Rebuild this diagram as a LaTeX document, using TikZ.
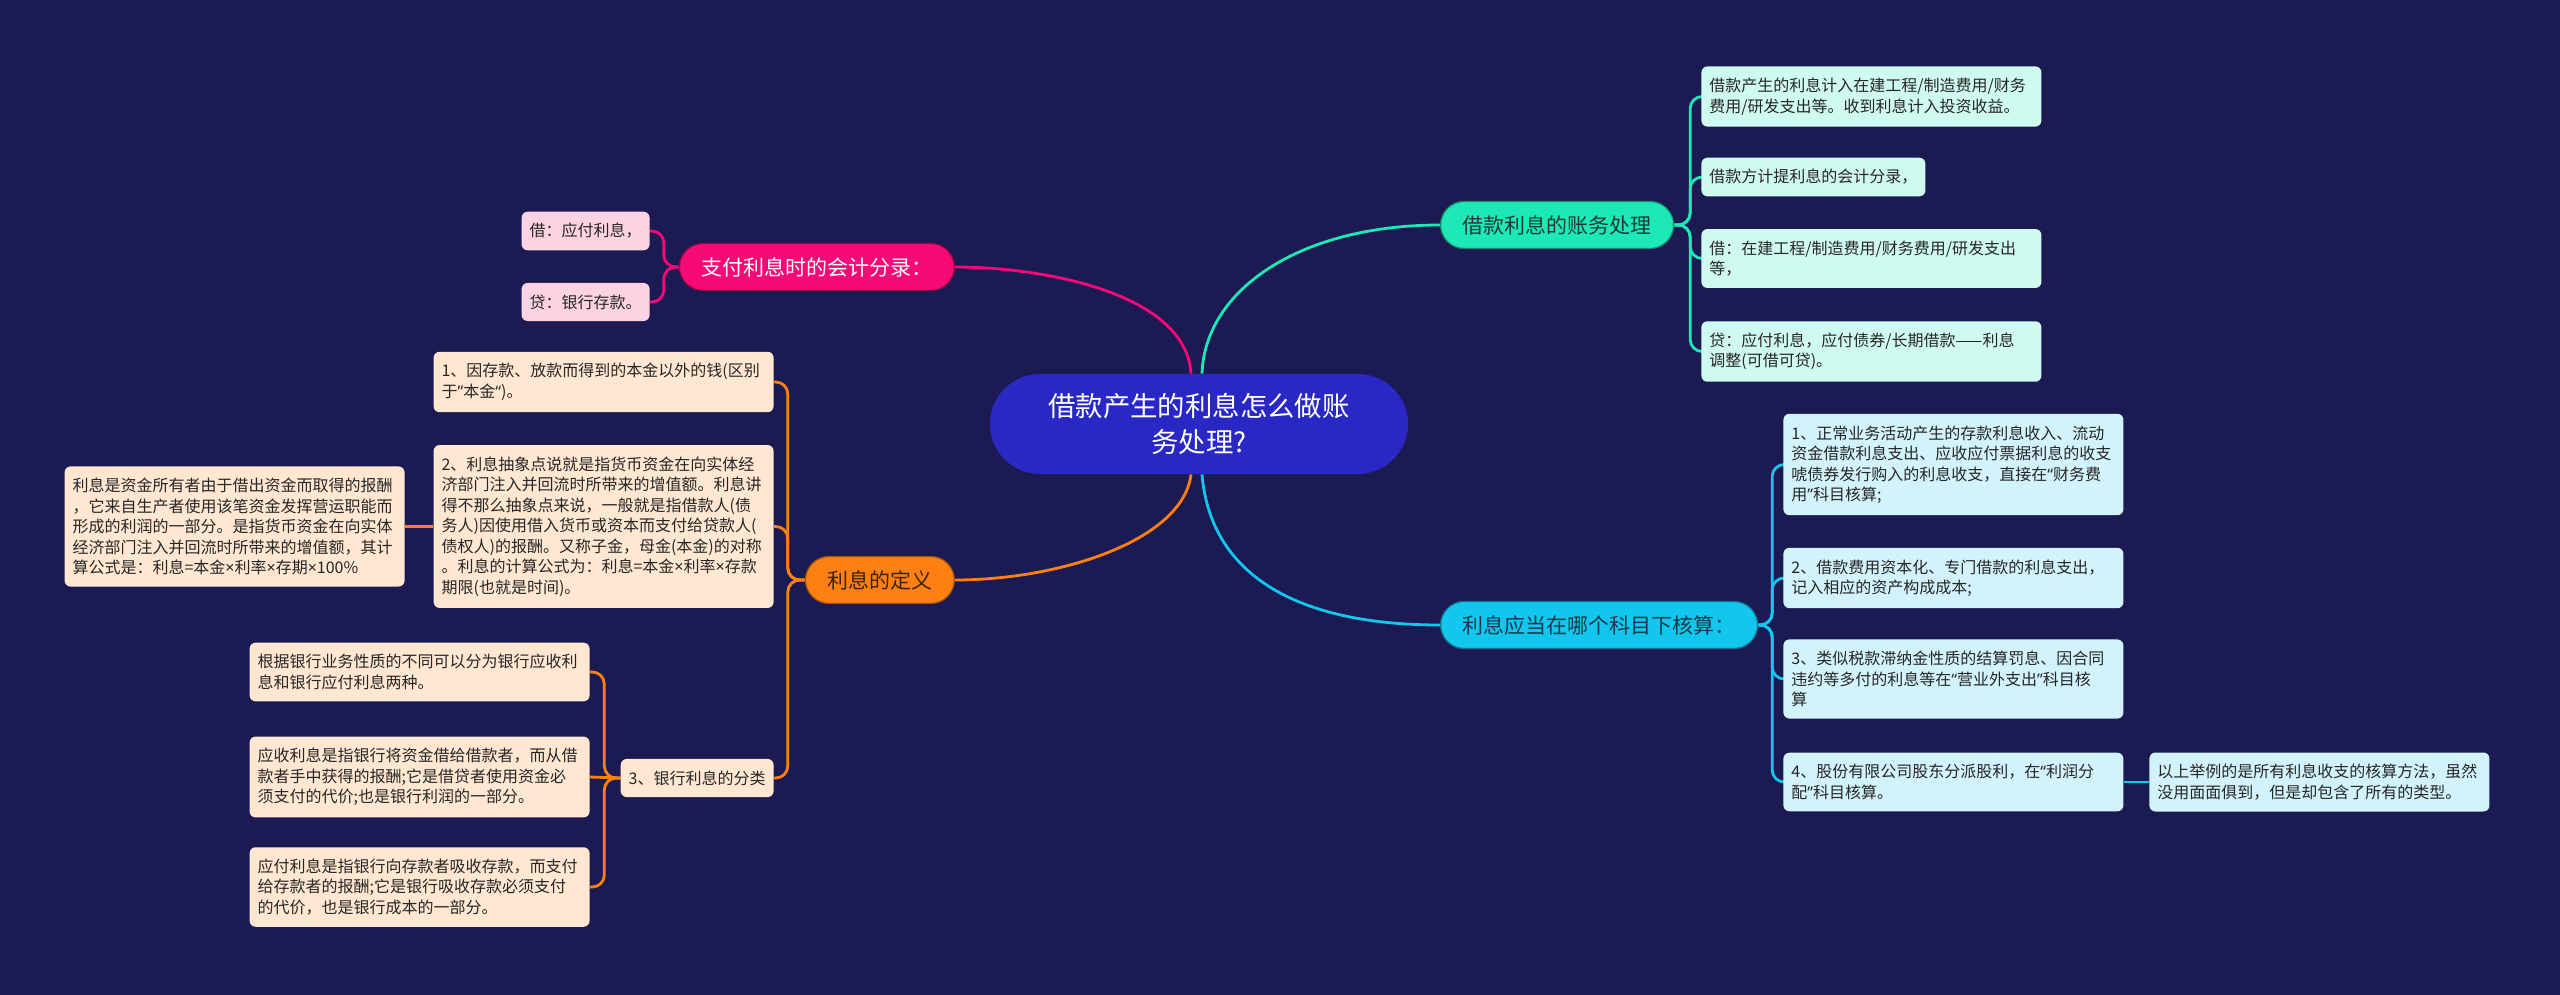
\documentclass[tikz,border=0pt]{standalone}
\usepackage{fontspec}
\setmainfont{Noto Sans CJK SC}
\newfontfamily\westfont{Noto Sans}
\usepackage{xcolor}
\usepackage{tikz}
\usetikzlibrary{positioning,backgrounds}
\definecolor{Night}{HTML}{1C1A52}
\definecolor{Core}{HTML}{2A28C4}
\definecolor{Rose}{HTML}{F50A78}
\definecolor{Mint}{HTML}{1DE9B6}
\definecolor{Sky}{HTML}{12C6EE}
\definecolor{Amber}{HTML}{FF8012}
\definecolor{RoseSoft}{HTML}{FDD3E4}
\definecolor{MintSoft}{HTML}{CFFAF0}
\definecolor{SkySoft}{HTML}{D2F3FC}
\definecolor{AmberSoft}{HTML}{FFE7D1}
\definecolor{Ink}{HTML}{262626}
\definecolor{MintInk}{HTML}{1A3A38}
\definecolor{SkyInk}{HTML}{15394A}
\definecolor{AmberInk}{HTML}{3A2208}
\newcommand{\wq}[1]{{\westfont #1}}

\begin{document}
\begin{tikzpicture}[x=0.5pt,y=-0.5pt,every node/.style={align=left},
  topic/.style={draw=#1!60!black,line width=0.6pt,fill=#1,rounded corners=11.75pt,minimum height=23.5pt,inner xsep=11pt,inner ysep=2pt,align=center,font=\fontsize{10.5pt}{12pt}\selectfont},
  leaf/.style={fill=#1,rounded corners=3pt,inner xsep=4pt,inner ysep=5.8pt,text=Ink,font=\fontsize{8pt}{10.25pt}\selectfont},
  full/.style={text width=162pt},
  link/.style={draw=#1,line width=1.4pt,rounded corners=6pt}]
  \useasboundingbox (0,0) rectangle (2560,995);
  % root
  \node[fill=Core,rounded corners=25pt,minimum width=209pt,minimum height=50pt,text=white,align=center,font=\fontsize{13.7pt}{18pt}\selectfont] (c) at (1199,424) {借款产生的利息怎么做账\\务处理?};
  % main topics
  \node[topic=Rose,text=white,anchor=east] (pk) at (955,267) {支付利息时的会计分录：};
  \node[topic=Mint,text=MintInk,anchor=west] (mt) at (1440,225) {借款利息的账务处理};
  \node[topic=Sky,text=SkyInk,anchor=west] (sk) at (1440,625) {利息应当在哪个科目下核算：};
  \node[topic=Amber,text=AmberInk,anchor=east] (am) at (955,580) {利息的定义};
  % pink side
  \node[leaf=RoseSoft,anchor=east] (p1) at (650,231) {借：应付利息，};
  \node[leaf=RoseSoft,anchor=east] (p2) at (650,302) {贷：银行存款。};
  % mint side
  \node[leaf=MintSoft,full,anchor=west] (t1) at (1701,96.5) {借款产生的利息计入在建工程/制造费用/财务\\费用/研发支出等。收到利息计入投资收益。};
  \node[leaf=MintSoft,anchor=west] (t2) at (1701,177) {借款方计提利息的会计分录，};
  \node[leaf=MintSoft,full,anchor=west] (t3) at (1701,258.5) {借：在建工程/制造费用/财务费用/研发支出\\等，};
  \node[leaf=MintSoft,full,anchor=west] (t4) at (1701,351.5) {贷：应付利息，应付债券/长期借款——利息\\调整(可借可贷)。};
  % sky side
  \node[leaf=SkySoft,full,anchor=west] (y1) at (1783,464.5) {1、正常业务活动产生的存款利息收入、流动\\资金借款利息支出、应收应付票据利息的收支\\唬债券发行购入的利息收支，直接在\wq{“}财务费\\用\wq{”}科目核算;};
  \node[leaf=SkySoft,full,anchor=west] (y2) at (1783,578) {2、借款费用资本化、专门借款的利息支出，\\记入相应的资产构成成本;};
  \node[leaf=SkySoft,full,anchor=west] (y3) at (1783,679) {3、类似税款滞纳金性质的结算罚息、因合同\\违约等多付的利息等在\wq{“}营业外支出\wq{”}科目核\\算};
  \node[leaf=SkySoft,full,anchor=west] (y4) at (1783,782) {4、股份有限公司股东分派股利，在\wq{“}利润分\\配\wq{”}科目核算。};
  \node[leaf=SkySoft,full,anchor=west] (y5) at (2149,782) {以上举例的是所有利息收支的核算方法，虽然\\没用面面俱到，但是却包含了所有的类型。};
  % amber side
  \node[leaf=AmberSoft,full,anchor=east] (o1) at (774,382) {1、因存款、放款而得到的本金以外的钱(区别\\于\wq{”}本金\wq{“})。};
  \node[leaf=AmberSoft,full,anchor=east] (o2) at (774,526.5) {2、利息抽象点说就是指货币资金在向实体经\\济部门注入并回流时所带来的增值额。利息讲\\得不那么抽象点来说，一般就是指借款人(债\\务人)因使用借入货币或资本而支付给贷款人(\\债权人)的报酬。又称子金，母金(本金)的对称\\。利息的计算公式为：利息=本金\wq{×}利率\wq{×}存款\\期限(也就是时间)。};
  \node[leaf=AmberSoft,full,anchor=east] (d) at (405,526.5) {利息是资金所有者由于借出资金而取得的报酬\\，它来自生产者使用该笔资金发挥营运职能而\\形成的利润的一部分。是指货币资金在向实体\\经济部门注入并回流时所带来的增值额，其计\\算公式是：利息=本金\wq{×}利率\wq{×}存期\wq{×}100\%};
  \node[leaf=AmberSoft,anchor=east] (o3) at (774,778) {3、银行利息的分类};
  \node[leaf=AmberSoft,full,anchor=east] (b1) at (590,672) {根据银行业务性质的不同可以分为银行应收利\\息和银行应付利息两种。};
  \node[leaf=AmberSoft,full,anchor=east] (b2) at (590,777) {应收利息是指银行将资金借给借款者，而从借\\款者手中获得的报酬;它是借贷者使用资金必\\须支付的代价;也是银行利润的一部分。};
  \node[leaf=AmberSoft,full,anchor=east] (b3) at (590,887) {应付利息是指银行向存款者吸收存款，而支付\\给存款者的报酬;它是银行吸收存款必须支付\\的代价，也是银行成本的一部分。};
  \begin{scope}[on background layer]
    \fill[Night] (0,0) rectangle (2560,995);
    % root to topics
    \draw[link=Rose] ([xshift=-4pt]c.north) .. controls +(-5,-80) and +(90,0) .. (pk.east);
    \draw[link=Mint] ([xshift=1.5pt]c.north) .. controls +(3,-84) and +(-140,0) .. (mt.west);
    \draw[link=Amber] ([xshift=-4pt]c.south) .. controls +(-8,66) and +(105,0) .. (am.east);
    \draw[link=Sky] ([xshift=1.5pt]c.south) .. controls +(8,96) and +(-150,0) .. (sk.west);
    % topics to leaves
    \draw[link=Rose] (pk.west) -- ++(-15,0) |- (p1.east); \draw[link=Rose] (pk.west) -- ++(-15,0) |- (p2.east);
    \draw[link=Mint] (mt.east) -- ++(16,0) |- (t1.west); \draw[link=Mint] (mt.east) -- ++(16,0) |- (t2.west);
    \draw[link=Mint] (mt.east) -- ++(16,0) |- (t3.west); \draw[link=Mint] (mt.east) -- ++(16,0) |- (t4.west);
    \draw[link=Sky] (sk.east) -- ++(14,0) |- (y1.west); \draw[link=Sky] (sk.east) -- ++(14,0) |- (y2.west);
    \draw[link=Sky] (sk.east) -- ++(14,0) |- (y3.west); \draw[link=Sky] (sk.east) -- ++(14,0) |- (y4.west);
    \draw[link=Sky] (y4.east) -- (y5.west);
    \draw[link=Amber] (am.west) -- ++(-17,0) |- (o1.east); \draw[link=Amber] (am.west) -- ++(-17,0) |- (o2.east);
    \draw[link=Amber] (am.west) -- ++(-17,0) |- (o3.east);
    \draw[link=Amber] (o2.west) -- (d.east);
    \draw[link=Amber] (o3.west) -- ++(-16,0) |- (b1.east); \draw[link=Amber] (o3.west) -- (b2.east);
    \draw[link=Amber] (o3.west) -- ++(-16,0) |- (b3.east);
  \end{scope}
\end{tikzpicture}
\end{document}
